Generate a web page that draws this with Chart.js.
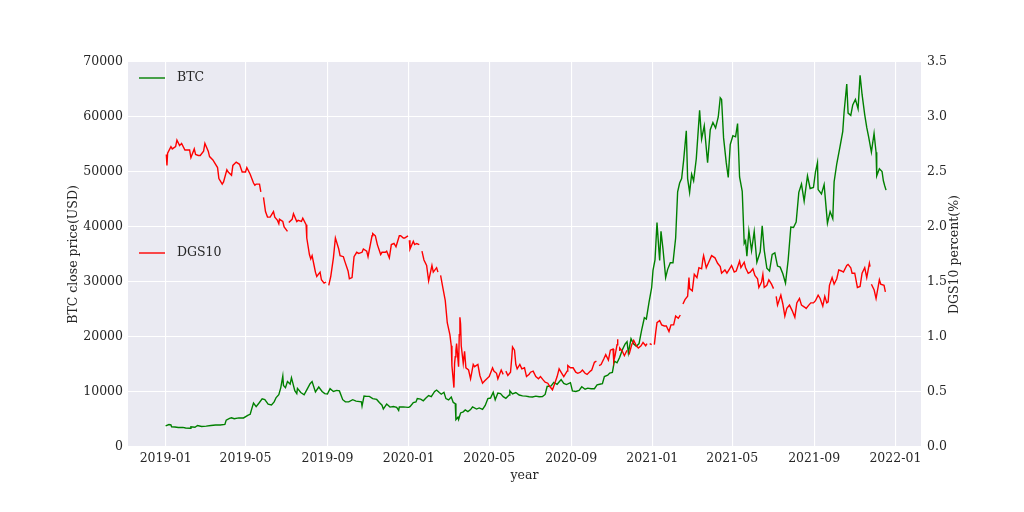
<!DOCTYPE html>
<html lang="en">
<head>
<meta charset="UTF-8">
<title>BTC close price and DGS10</title>
<script src="https://cdn.jsdelivr.net/npm/chart.js"></script>
<style>
  html, body { margin: 0; padding: 0; background: #fff; }
  #wrap { width: 1024px; height: 512px; }
</style>
</head>
<body>
<div id="wrap"><canvas id="chart" width="1024" height="512"></canvas></div>
<script>
// BTC close price (USD), one line per month
const btcDates = [
  '2019-01-01','2019-01-06','2019-01-09','2019-01-10','2019-01-15','2019-01-20','2019-01-27','2019-01-31',
  '2019-02-07','2019-02-08','2019-02-14','2019-02-18','2019-02-24',
  '2019-03-03','2019-03-10','2019-03-17','2019-03-24','2019-03-31',
  '2019-04-02','2019-04-07','2019-04-10','2019-04-14','2019-04-21','2019-04-28',
  '2019-05-05','2019-05-08','2019-05-11','2019-05-13','2019-05-17','2019-05-21','2019-05-26','2019-05-30',
  '2019-06-04','2019-06-09','2019-06-13','2019-06-16','2019-06-20','2019-06-23','2019-06-26','2019-06-27','2019-06-30',
  '2019-07-03','2019-07-07','2019-07-09','2019-07-14','2019-07-17','2019-07-18','2019-07-23','2019-07-28',
  '2019-08-01','2019-08-06','2019-08-09','2019-08-14','2019-08-19','2019-08-24','2019-08-28',
  '2019-09-01','2019-09-05','2019-09-10','2019-09-15','2019-09-19','2019-09-24','2019-09-28',
  '2019-10-03','2019-10-09','2019-10-14','2019-10-22','2019-10-23','2019-10-25','2019-10-26','2019-10-30',
  '2019-11-03','2019-11-08','2019-11-14','2019-11-18','2019-11-22','2019-11-24','2019-11-29',
  '2019-12-04','2019-12-09','2019-12-14','2019-12-17','2019-12-18','2019-12-24','2019-12-31',
  '2020-01-01','2020-01-03','2020-01-06','2020-01-08','2020-01-12','2020-01-14','2020-01-19','2020-01-23','2020-01-27','2020-01-31',
  '2020-02-04','2020-02-09','2020-02-12','2020-02-16','2020-02-19','2020-02-23','2020-02-26',
  '2020-03-01','2020-03-05','2020-03-08','2020-03-11','2020-03-12','2020-03-15','2020-03-16','2020-03-19','2020-03-23','2020-03-26','2020-03-30',
  '2020-04-03','2020-04-06','2020-04-12','2020-04-16','2020-04-21','2020-04-25','2020-04-29',
  '2020-05-03','2020-05-07','2020-05-10','2020-05-14','2020-05-18','2020-05-22','2020-05-26','2020-05-31',
  '2020-06-01','2020-06-05','2020-06-10','2020-06-15','2020-06-20','2020-06-25','2020-06-30',
  '2020-07-05','2020-07-10','2020-07-15','2020-07-20','2020-07-24','2020-07-27',
  '2020-08-02','2020-08-06','2020-08-11','2020-08-17','2020-08-21','2020-08-25','2020-08-31',
  '2020-09-03','2020-09-08','2020-09-13','2020-09-17','2020-09-22','2020-09-26',
  '2020-10-01','2020-10-06','2020-10-10','2020-10-14','2020-10-18','2020-10-21','2020-10-26','2020-10-29',
  '2020-11-02','2020-11-05','2020-11-09','2020-11-13','2020-11-17','2020-11-21','2020-11-24','2020-11-26','2020-11-30',
  '2020-12-04','2020-12-08','2020-12-12','2020-12-16','2020-12-20','2020-12-23','2020-12-27','2020-12-31',
  '2021-01-02','2021-01-05','2021-01-08','2021-01-11','2021-01-12','2021-01-14','2021-01-17','2021-01-21','2021-01-24','2021-01-28',
  '2021-02-01','2021-02-05','2021-02-08','2021-02-11','2021-02-14','2021-02-17','2021-02-21','2021-02-23','2021-02-26',
  '2021-03-01','2021-03-04','2021-03-08','2021-03-13','2021-03-16','2021-03-20','2021-03-24','2021-03-25','2021-03-29',
  '2021-04-02','2021-04-06','2021-04-10','2021-04-13','2021-04-15','2021-04-18','2021-04-22','2021-04-25','2021-04-28',
  '2021-05-02','2021-05-06','2021-05-09','2021-05-12','2021-05-16','2021-05-19','2021-05-21','2021-05-23','2021-05-26','2021-05-30',
  '2021-06-03','2021-06-07','2021-06-12','2021-06-15','2021-06-18','2021-06-22','2021-06-26','2021-06-30',
  '2021-07-04','2021-07-08','2021-07-12','2021-07-16','2021-07-20','2021-07-24','2021-07-28',
  '2021-08-01','2021-08-05','2021-08-09','2021-08-13','2021-08-17','2021-08-22','2021-08-26','2021-08-31',
  '2021-09-03','2021-09-06','2021-09-07','2021-09-12','2021-09-16','2021-09-21','2021-09-25','2021-09-29',
  '2021-10-01','2021-10-05','2021-10-10','2021-10-14','2021-10-16','2021-10-20','2021-10-22','2021-10-26','2021-10-29',
  '2021-11-02','2021-11-06','2021-11-09','2021-11-12','2021-11-16','2021-11-19','2021-11-22','2021-11-26','2021-11-30',
  '2021-12-03','2021-12-04','2021-12-08','2021-12-12','2021-12-14','2021-12-16','2021-12-18'
];
const btcClose = [
  3843, 4076, 4015, 3654, 3630, 3536, 3575, 3457,
  3400, 3666, 3590, 3913, 3740,
  3800, 3920, 4000, 3990, 4105,
  4880, 5200, 5300, 5150, 5300, 5280,
  5800, 5950, 7200, 8000, 7350, 7950, 8750, 8600,
  7800, 7650, 8200, 8990, 9500, 10800, 12900, 11200, 10800,
  11900, 11450, 12600, 10250, 9700, 10650, 9900, 9500,
  10400, 11500, 11900, 10000, 10900, 10100, 9700,
  9630, 10600, 10100, 10300, 10200, 8600, 8200,
  8200, 8600, 8350, 8200, 7450, 8650, 9250, 9200,
  9200, 8800, 8650, 8100, 7600, 6900, 7800,
  7250, 7350, 7200, 6650, 7280, 7300, 7200,
  7200, 7340, 7770, 8080, 8190, 8810, 8700, 8400, 8900, 9350,
  9160, 10100, 10350, 9900, 9600, 9950, 8800,
  8550, 9080, 8100, 7900, 4970, 5400, 5000, 6190, 6400, 6750, 6430,
  6800, 7300, 6900, 7100, 6850, 7550, 8800,
  8900, 9950, 8600, 9800, 9700, 9150, 8850, 9450,
  10200, 9650, 9900, 9450, 9300, 9250, 9140,
  9090, 9240, 9150, 9160, 9550, 11000,
  11100, 11750, 11400, 12250, 11550, 11350, 11700,
  10200, 10100, 10300, 10950, 10500, 10700,
  10600, 10600, 11300, 11400, 11500, 12800, 13050, 13450,
  13550, 15600, 15300, 16300, 17700, 18700, 19150, 17100, 19700,
  18700, 18300, 18800, 21300, 23500, 23250, 26300, 29000,
  32100, 34000, 40800, 35500, 33900, 39200, 36000, 30800, 32300, 33500,
  33500, 38000, 46400, 48000, 48800, 52100, 57500, 48800, 46300,
  49600, 48400, 52400, 61200, 56000, 58400, 53000, 51700, 57700,
  59000, 58000, 60000, 63500, 63200, 56200, 51700, 49000, 55000,
  56600, 56400, 58800, 49100, 46500, 37000, 37500, 34700, 39300, 35700,
  39200, 33600, 35500, 40200, 35800, 32500, 32000, 35000,
  35300, 32900, 32700, 31500, 29800, 34000, 40000,
  39900, 40900, 46300, 47800, 44700, 49300, 47000, 47200,
  50000, 51700, 46800, 46000, 47700, 40700, 42800, 41500,
  48200, 51500, 54700, 57400, 60900, 66000, 60700, 60300, 62200,
  63200, 61500, 67600, 64100, 60400, 58100, 56300, 53600, 57000,
  53600, 49300, 50600, 50100, 48400, 47500, 46700
];

// 10-year treasury yield DGS10 (%), null = holiday where the line breaks
const dgsDates = [
  '2019-01-02','2019-01-03','2019-01-04','2019-01-09','2019-01-11','2019-01-16','2019-01-18','2019-01-22','2019-01-25','2019-01-30',
  '2019-02-01','2019-02-06','2019-02-08','2019-02-13','2019-02-15','2019-02-19','2019-02-22','2019-02-27',
  '2019-03-01','2019-03-06','2019-03-08','2019-03-13','2019-03-15','2019-03-20','2019-03-22','2019-03-27','2019-03-29',
  '2019-04-03','2019-04-05','2019-04-10','2019-04-12','2019-04-17','2019-04-22','2019-04-26',
  '2019-05-01','2019-05-03','2019-05-08','2019-05-13','2019-05-15','2019-05-17','2019-05-22','2019-05-24','2019-05-27','2019-05-28','2019-05-31',
  '2019-06-03','2019-06-07','2019-06-12','2019-06-14','2019-06-18','2019-06-20','2019-06-21','2019-06-26','2019-06-28',
  '2019-07-03','2019-07-04','2019-07-05','2019-07-10','2019-07-12','2019-07-17','2019-07-19','2019-07-24','2019-07-26','2019-07-31',
  '2019-08-01','2019-08-05','2019-08-07','2019-08-09','2019-08-12','2019-08-14','2019-08-16','2019-08-21','2019-08-23','2019-08-27','2019-08-30',
  '2019-09-02','2019-09-03','2019-09-06','2019-09-10','2019-09-13','2019-09-18','2019-09-20','2019-09-25','2019-09-27',
  '2019-10-02','2019-10-04','2019-10-08','2019-10-11','2019-10-15','2019-10-18','2019-10-23','2019-10-25','2019-10-30',
  '2019-11-01','2019-11-07','2019-11-08','2019-11-12','2019-11-15','2019-11-20','2019-11-22','2019-11-27','2019-11-29',
  '2019-12-03','2019-12-06','2019-12-10','2019-12-13','2019-12-18','2019-12-20','2019-12-24','2019-12-26','2019-12-31',
  '2020-01-01','2020-01-02','2020-01-03','2020-01-08','2020-01-10','2020-01-13','2020-01-17','2020-01-20','2020-01-21','2020-01-24','2020-01-28','2020-01-31',
  '2020-02-05','2020-02-07','2020-02-12','2020-02-14','2020-02-17','2020-02-18','2020-02-21','2020-02-25','2020-02-28',
  '2020-03-03','2020-03-05','2020-03-06','2020-03-09','2020-03-10','2020-03-11','2020-03-12','2020-03-13','2020-03-16','2020-03-17','2020-03-18','2020-03-19','2020-03-20','2020-03-23','2020-03-25','2020-03-27','2020-03-31',
  '2020-04-03','2020-04-07','2020-04-09','2020-04-14','2020-04-17','2020-04-21','2020-04-24','2020-04-29',
  '2020-05-01','2020-05-06','2020-05-08','2020-05-12','2020-05-14','2020-05-19','2020-05-22','2020-05-25','2020-05-26','2020-05-29',
  '2020-06-02','2020-06-04','2020-06-05','2020-06-08','2020-06-10','2020-06-12','2020-06-16','2020-06-19','2020-06-23','2020-06-26','2020-06-30',
  '2020-07-02','2020-07-06','2020-07-10','2020-07-14','2020-07-17','2020-07-21','2020-07-24','2020-07-28','2020-07-31',
  '2020-08-04','2020-08-07','2020-08-11','2020-08-14','2020-08-18','2020-08-21','2020-08-26','2020-08-27','2020-08-31',
  '2020-09-04','2020-09-08','2020-09-11','2020-09-15','2020-09-18','2020-09-22','2020-09-25','2020-09-30',
  '2020-10-02','2020-10-06','2020-10-09','2020-10-12','2020-10-13','2020-10-16','2020-10-20','2020-10-23','2020-10-27','2020-10-30',
  '2020-11-03','2020-11-04','2020-11-06','2020-11-09','2020-11-10','2020-11-11','2020-11-12','2020-11-13','2020-11-17','2020-11-20','2020-11-24','2020-11-25','2020-11-26','2020-11-27',
  '2020-12-01','2020-12-04','2020-12-08','2020-12-11','2020-12-15','2020-12-18','2020-12-22','2020-12-24','2020-12-25','2020-12-28','2020-12-31',
  '2021-01-01','2021-01-04','2021-01-06','2021-01-08','2021-01-12','2021-01-15','2021-01-19','2021-01-22','2021-01-26','2021-01-29',
  '2021-02-02','2021-02-05','2021-02-09','2021-02-12','2021-02-15','2021-02-16','2021-02-19','2021-02-23','2021-02-25','2021-02-26',
  '2021-03-02','2021-03-05','2021-03-09','2021-03-12','2021-03-16','2021-03-18','2021-03-19','2021-03-23','2021-03-26','2021-03-31',
  '2021-04-05','2021-04-09','2021-04-13','2021-04-15','2021-04-20','2021-04-23','2021-04-27','2021-04-30',
  '2021-05-04','2021-05-07','2021-05-12','2021-05-14','2021-05-19','2021-05-21','2021-05-25','2021-05-28',
  '2021-06-01','2021-06-04','2021-06-08','2021-06-10','2021-06-14','2021-06-16','2021-06-18','2021-06-22','2021-06-25','2021-06-29',
  '2021-07-02','2021-07-05','2021-07-06','2021-07-08','2021-07-13','2021-07-16','2021-07-19','2021-07-22','2021-07-26','2021-07-30',
  '2021-08-03','2021-08-06','2021-08-10','2021-08-13','2021-08-18','2021-08-20','2021-08-24','2021-08-27','2021-08-31',
  '2021-09-03','2021-09-07','2021-09-10','2021-09-14','2021-09-17','2021-09-20','2021-09-22','2021-09-24','2021-09-28',
  '2021-10-01','2021-10-05','2021-10-08','2021-10-12','2021-10-15','2021-10-20','2021-10-22','2021-10-26','2021-10-28',
  '2021-11-01','2021-11-05','2021-11-09','2021-11-12','2021-11-16','2021-11-19','2021-11-23','2021-11-24','2021-11-25','2021-11-26','2021-11-30',
  '2021-12-03','2021-12-08','2021-12-10','2021-12-15','2021-12-17'
];
const dgsRate = [
  2.66, 2.56, 2.67, 2.73, 2.71, 2.73, 2.79, 2.74, 2.76, 2.70,
  2.70, 2.70, 2.63, 2.71, 2.66, 2.65, 2.65, 2.69,
  2.76, 2.69, 2.64, 2.61, 2.59, 2.54, 2.44, 2.39, 2.41,
  2.52, 2.50, 2.47, 2.56, 2.59, 2.57, 2.50,
  2.50, 2.54, 2.48, 2.40, 2.38, 2.39, 2.39, 2.32, null, 2.27, 2.14,
  2.09, 2.09, 2.14, 2.09, 2.06, 2.03, 2.07, 2.05, 2.00,
  1.96, null, 2.04, 2.07, 2.12, 2.05, 2.06, 2.05, 2.08, 2.02,
  1.90, 1.75, 1.71, 1.74, 1.65, 1.59, 1.55, 1.59, 1.52, 1.49, 1.50,
  null, 1.47, 1.55, 1.72, 1.90, 1.80, 1.74, 1.73, 1.69,
  1.60, 1.53, 1.54, 1.73, 1.77, 1.76, 1.77, 1.80, 1.78,
  1.73, 1.92, 1.94, 1.92, 1.84, 1.75, 1.77, 1.77, 1.78,
  1.72, 1.84, 1.85, 1.82, 1.92, 1.92, 1.90, 1.90, 1.92,
  null, 1.88, 1.80, 1.87, 1.84, 1.85, 1.84, null, 1.78, 1.70, 1.65, 1.51,
  1.65, 1.59, 1.63, 1.59, null, 1.56, 1.46, 1.33, 1.13,
  1.02, 0.92, 0.74, 0.54, 0.76, 0.82, 0.88, 0.94, 0.73, 1.02, 1.18, 1.12, 0.92, 0.76, 0.87, 0.72, 0.70,
  0.62, 0.75, 0.73, 0.75, 0.65, 0.58, 0.60, 0.63,
  0.64, 0.72, 0.69, 0.67, 0.62, 0.70, 0.66, null, 0.69, 0.65,
  0.68, 0.82, 0.91, 0.88, 0.75, 0.71, 0.75, 0.71, 0.72, 0.64, 0.66,
  0.68, 0.69, 0.64, 0.62, 0.64, 0.61, 0.59, 0.58, 0.55,
  0.52, 0.57, 0.64, 0.71, 0.67, 0.64, 0.69, 0.74, 0.72,
  0.72, 0.68, 0.67, 0.68, 0.70, 0.67, 0.66, 0.69,
  0.70, 0.77, 0.78, null, 0.74, 0.75, 0.80, 0.84, 0.79, 0.88,
  0.89, 0.78, 0.83, 0.93, 0.98, null, 0.88, 0.90, 0.87, 0.83, 0.88, 0.88, null, 0.84,
  0.93, 0.97, 0.92, 0.90, 0.92, 0.95, 0.92, 0.94, null, 0.94, 0.93,
  null, 0.93, 1.04, 1.13, 1.15, 1.11, 1.10, 1.10, 1.05, 1.11,
  1.11, 1.19, 1.17, 1.20, null, 1.30, 1.34, 1.37, 1.54, 1.44,
  1.42, 1.57, 1.54, 1.63, 1.62, 1.71, 1.74, 1.63, 1.67, 1.74,
  1.72, 1.67, 1.64, 1.58, 1.61, 1.58, 1.62, 1.65,
  1.59, 1.60, 1.69, 1.63, 1.68, 1.63, 1.58, 1.59,
  1.62, 1.56, 1.53, 1.45, 1.50, 1.57, 1.45, 1.47, 1.52, 1.48,
  1.44, null, 1.37, 1.29, 1.38, 1.30, 1.19, 1.26, 1.29, 1.24,
  1.18, 1.31, 1.35, 1.29, 1.27, 1.26, 1.29, 1.31, 1.31,
  1.33, 1.38, 1.35, 1.28, 1.37, 1.31, 1.32, 1.47, 1.54,
  1.48, 1.53, 1.61, 1.60, 1.59, 1.65, 1.66, 1.63, 1.58,
  1.58, 1.45, 1.46, 1.58, 1.63, 1.54, 1.67, 1.64, null, 1.48, 1.43,
  1.35, 1.52, 1.48, 1.47, 1.41
];

const xTickLabels = ['2019-01', '2019-05', '2019-09', '2020-01', '2020-05', '2020-09', '2021-01', '2021-05', '2021-09', '2022-01'];
const btcTicks = [0, 10000, 20000, 30000, 40000, 50000, 60000, 70000];
const dgsTicks = [0, 0.5, 1.0, 1.5, 2.0, 2.5, 3.0, 3.5];

const DAY = 86400000;
const toMs = s => Date.parse(s.length === 7 ? s + '-01' : s);
const xStart = toMs('2019-01-01') - 56.5 * DAY;
const xEnd = toMs('2019-01-01') + 1134.5 * DAY;

const textColor = '#262626';
const baseFont = { family: '"DejaVu Serif", serif', size: 12.5 };

// grey plot background like seaborn darkgrid
const bgPlugin = {
  id: 'plotBg',
  beforeDraw(chart) {
    const { ctx, chartArea: a } = chart;
    ctx.save();
    ctx.fillStyle = '#EAEAF2';
    ctx.fillRect(a.left, a.top, a.right - a.left, a.bottom - a.top);
    ctx.restore();
  }
};

// two separate legends + right axis title (reads bottom to top)
const extrasPlugin = {
  id: 'extras',
  afterDraw(chart) {
    const ctx = chart.ctx;
    ctx.save();
    ctx.font = '12.5px "DejaVu Serif", serif';
    ctx.fillStyle = textColor;
    ctx.textBaseline = 'middle';
    ctx.textAlign = 'left';
    [['BTC', 'green', 78], ['DGS10', 'red', 253]].forEach(([name, col, y]) => {
      ctx.strokeStyle = col;
      ctx.lineWidth = 1.4;
      ctx.beginPath();
      ctx.moveTo(139, y);
      ctx.lineTo(165, y);
      ctx.stroke();
      ctx.fillText(name, 177, y);
    });
    ctx.translate(955, (chart.chartArea.top + chart.chartArea.bottom) / 2);
    ctx.rotate(-Math.PI / 2);
    ctx.textAlign = 'center';
    ctx.fillText('DGS10 percent(%)', 0, 0);
    ctx.restore();
  }
};

new Chart(document.getElementById('chart'), {
  type: 'line',
  data: {
    datasets: [
      {
        label: 'BTC',
        data: btcDates.map((d, i) => ({ x: toMs(d), y: btcClose[i] })),
        borderColor: 'green',
        yAxisID: 'y',
        order: 2
      },
      {
        label: 'DGS10',
        data: dgsDates.map((d, i) => ({ x: toMs(d), y: dgsRate[i] })),
        borderColor: 'red',
        yAxisID: 'y1',
        order: 1
      }
    ]
  },
  options: {
    responsive: false,
    animation: false,
    devicePixelRatio: 1,
    layout: { padding: { top: 62, left: 0, right: 0, bottom: 0 } },
    elements: {
      point: { radius: 0 },
      line: { tension: 0, borderWidth: 1.4 }
    },
    plugins: { legend: { display: false }, tooltip: { enabled: false } },
    scales: {
      x: {
        type: 'linear',
        min: xStart,
        max: xEnd,
        border: { display: false },
        grid: { color: '#ffffff', lineWidth: 1.1, drawTicks: false },
        afterBuildTicks: s => { s.ticks = xTickLabels.map(l => ({ value: toMs(l) })); },
        ticks: { callback: (v, i) => xTickLabels[i], font: baseFont, color: textColor, padding: 4, maxRotation: 0, autoSkip: false },
        title: { display: true, text: 'year', font: baseFont, color: textColor, padding: { top: 0, bottom: 28.5 } },
        afterFit: s => { s.height = 65; }
      },
      y: {
        position: 'left',
        min: 0,
        max: 70000,
        border: { display: false },
        grid: { color: '#ffffff', lineWidth: 1.1, drawTicks: false },
        afterBuildTicks: s => { s.ticks = btcTicks.map(v => ({ value: v })); },
        ticks: { callback: v => String(v), font: baseFont, color: textColor, padding: 5 },
        title: { display: true, text: 'BTC close price(USD)', font: baseFont, color: textColor, padding: { top: 66.5, bottom: 0 } },
        afterFit: s => { s.width = 128; }
      },
      y1: {
        position: 'right',
        min: 0,
        max: 3.5,
        border: { display: false },
        grid: { display: false, drawTicks: false },
        afterBuildTicks: s => { s.ticks = dgsTicks.map(v => ({ value: v })); },
        ticks: { callback: v => v.toFixed(1), font: baseFont, color: textColor, padding: 6 },
        afterFit: s => { s.width = 103; }
      }
    }
  },
  plugins: [bgPlugin, extrasPlugin]
});
</script>
</body>
</html>
